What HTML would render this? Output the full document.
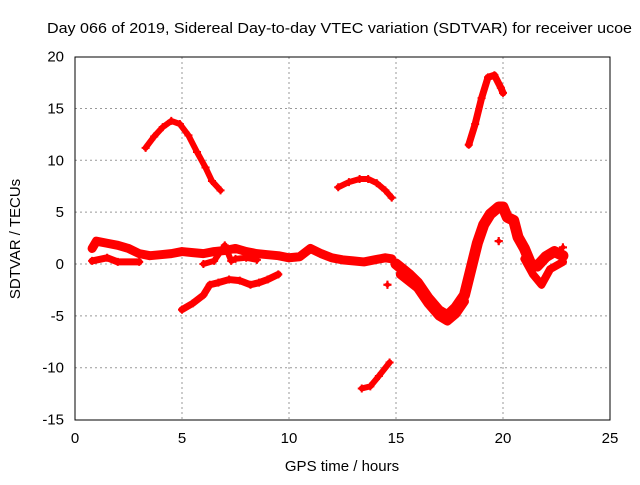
<!DOCTYPE html>
<html><head><meta charset="utf-8"><style>
body{margin:0;background:#fff}
text{font-family:"Liberation Sans",sans-serif;font-size:15px;fill:#000}
</style></head><body>
<svg id="c" width="640" height="480" xmlns="http://www.w3.org/2000/svg">
<text x="47" y="33" textLength="585" lengthAdjust="spacingAndGlyphs">Day 066 of 2019, Sidereal Day-to-day VTEC variation (SDTVAR) for receiver ucoe</text>
<text x="342" y="471" text-anchor="middle">GPS time / hours</text>
<text transform="translate(20,239) rotate(-90)" text-anchor="middle">SDTVAR / TECUs</text>
<g id="grid"></g><g id="ticks"></g><g id="data"></g>
<rect x="75" y="57" width="535" height="363" fill="none" stroke="#000"/>
</svg>
<script>
const xTicks=[0,5,10,15,20,25];
const yTicks=[-15,-10,-5,0,5,10,15,20];
const traceArc1=[[3.3,11.2],[3.7,12.3],[4.1,13.2],[4.5,13.8],[4.9,13.5],[5.3,12.4],[5.7,10.8],[6.1,9.3],[6.4,8.0],[6.8,7.1]];
const traceArc2=[[12.3,7.4],[12.8,7.9],[13.3,8.2],[13.7,8.2],[14.1,7.8],[14.5,7.1],[14.8,6.4]];
const traceArc3=[[13.4,-12.0],[13.8,-11.8],[14.2,-10.8],[14.7,-9.5]];
const traceArc4=[[18.4,11.5],[18.7,13.5],[19.0,16.0],[19.3,18.0],[19.6,18.2],[19.9,17.0],[20.0,16.5]];
const traceUpper=[[0.8,1.5],[1.0,2.2],[1.5,2.0],[2.0,1.8],[2.5,1.5],[3,1.0],[3.5,0.8],[4,0.9],[4.5,1.0],[5,1.2],[5.5,1.1],[6,1.0],[6.5,1.2],[7,1.3],[7.5,1.5],[8,1.2],[8.5,1.0],[9,0.9],[9.5,0.8],[10,0.6],[10.5,0.7],[11,1.5],[11.5,1.0],[12,0.6],[12.5,0.4],[13,0.3],[13.5,0.2],[14,0.4],[14.5,0.6],[14.8,0.5]];
const traceLowerStart=[[0.8,0.3],[1.5,0.6],[2,0.2],[3,0.2]];
const traceLoop=[[6.0,0.0],[6.5,0.3],[7.0,1.8],[7.3,0.3],[7.5,0.5],[8,0.6],[8.5,0.4]];
const traceNeg=[[5,-4.4],[5.5,-3.8],[6,-3.0],[6.3,-2.0],[6.7,-1.8],[7.2,-1.5],[7.7,-1.6],[8.2,-2.0],[8.6,-1.8],[9,-1.5],[9.5,-1.0]];
const traceLate=[[15.0,0],[15.3,-0.5],[15.6,-1.0],[16,-1.8],[16.5,-3.3],[17,-4.5],[17.4,-5.0],[17.8,-4.2],[18.2,-3.0],[18.5,-0.5],[18.8,2.0],[19.1,3.8],[19.4,4.8],[19.8,5.5],[20,5.5],[20.2,4.5],[20.5,4.2],[20.7,2.6],[21,1.5],[21.3,0.0],[21.6,-0.2],[22,0.7],[22.4,1.2],[22.8,0.8]];
const traceLate2=[[15.2,-1.0],[16,-2.3],[16.5,-3.8],[17,-5.0],[17.4,-5.5],[17.8,-4.8],[18.2,-3.6]];
const traceTail=[[21.0,0.5],[21.4,-1.0],[21.8,-2.0],[22.2,-0.5],[22.8,0.2]];
const singles=[[14.6,-2.0],[19.8,2.2],[22.8,1.6]];
const X=t=>75+t*21.4, Y=v=>264-v*10.37;
const NS="http://www.w3.org/2000/svg";
const g=document.getElementById('grid'),tk=document.getElementById('ticks'),d=document.getElementById('data');
function mk(tag,attrs,parent){const e=document.createElementNS(NS,tag);for(const k in attrs)e.setAttribute(k,attrs[k]);parent.appendChild(e);return e;}
xTicks.forEach(t=>{
 if(t>0&&t<25){const l=mk('line',{x1:X(t),x2:X(t),y1:57,y2:420,stroke:'#999','stroke-dasharray':'2,3'},g);
 
 }
 const s=mk('text',{x:X(t),y:443,'text-anchor':'middle'},tk);s.textContent=t;
 
 
});
yTicks.forEach(v=>{
 if(v>-15&&v<20){const l=mk('line',{x1:75,x2:610,y1:Y(v),y2:Y(v),stroke:'#999','stroke-dasharray':'2,3'},g);
 
 }
 const s=mk('text',{x:64,y:Y(v)+5,'text-anchor':'end'},tk);s.textContent=v;
 
 
});
function trace(pts,w,name){
 const p=mk('polyline',{points:pts.map(q=>X(q[0])+','+Y(q[1])).join(' '),fill:'none',stroke:'#f00','stroke-width':w,'stroke-linejoin':'round','stroke-linecap':'round'},d);
 
 
 pts.forEach(q=>{const m=mk('path',{d:`M${X(q[0])-4},${Y(q[1])}h8M${X(q[0])},${Y(q[1])-4}v8`,stroke:'#f00','stroke-width':2},d);
  
  });
}
trace(traceArc1,6,'arc-1');trace(traceArc2,6,'arc-2');trace(traceArc3,6,'arc-3');trace(traceArc4,7,'arc-4');
trace(traceUpper,9,'upper-band');trace(traceLowerStart,7,'lower-start');trace(traceLoop,6,'loop');
trace(traceNeg,7,'negative-trace');trace(traceLate,11,'late-trace');trace(traceLate2,9,'late-trace-2');trace(traceTail,8,'tail-trace');
singles.forEach(q=>trace([q,q],5,'single-point'));
</script>
</body></html>
